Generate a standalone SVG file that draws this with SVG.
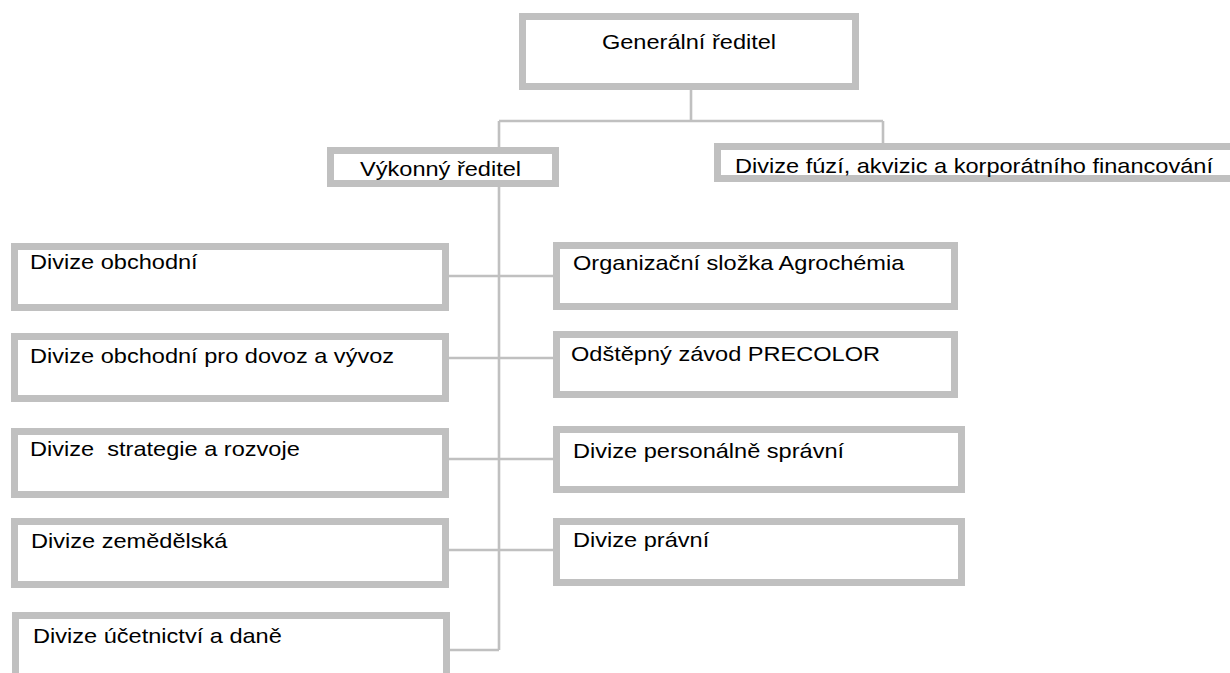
<svg xmlns="http://www.w3.org/2000/svg" width="1230" height="673" viewBox="0 0 1230 673">
  <style>
    .box { fill: #ffffff; stroke: #c0c0c0; stroke-width: 7; }
    .conn { fill: none; stroke: #c0c0c0; stroke-width: 2.6; }
    .lbl { font-family: "Liberation Sans", Arial, sans-serif; font-size: 20.5px; fill: #000000; white-space: pre; }
  </style>
  <rect width="1230" height="673" fill="#ffffff"/>
  <g id="connectors">
    <path class="conn" d="M691 90 V121 M499 121 H883 M499 121 V147 M883 121 V143"/>
    <path class="conn" d="M499 187 V650"/>
    <path class="conn" d="M449 276 H553 M449 358 H553 M449 459 H553 M449 550 H553 M449 650 H499"/>
  </g>
  <g id="n-generalni">
    <rect class="box" x="522.5" y="16.5" width="333" height="70"/>
    <text class="lbl" text-anchor="middle" transform="translate(689 49) scale(1.15 1)">Generální ředitel</text>
  </g>
  <g id="n-vykonny">
    <rect class="box" x="330.5" y="150.5" width="225" height="33"/>
    <text class="lbl" transform="translate(360 176) scale(1.15 1)">Výkonný ředitel</text>
  </g>
  <g id="n-fuzi">
    <rect class="box" x="717.5" y="146.5" width="520" height="32"/>
    <text class="lbl" transform="translate(735 173) scale(1.15 1)">Divize fúzí, akvizic a korporátního financování</text>
  </g>
  <g id="n-obchodni">
    <rect class="box" x="14.5" y="246.5" width="431" height="61"/>
    <text class="lbl" transform="translate(30 269) scale(1.15 1)">Divize obchodní</text>
  </g>
  <g id="n-dovoz">
    <rect class="box" x="14.5" y="336.5" width="431" height="62"/>
    <text class="lbl" transform="translate(30 363) scale(1.15 1)">Divize obchodní pro dovoz a vývoz</text>
  </g>
  <g id="n-strategie">
    <rect class="box" x="14.5" y="431.5" width="431" height="63"/>
    <text class="lbl" transform="translate(30 456) scale(1.15 1)">Divize  strategie a rozvoje</text>
  </g>
  <g id="n-zemedelska">
    <rect class="box" x="14.5" y="521.5" width="431" height="63"/>
    <text class="lbl" transform="translate(31 548) scale(1.15 1)">Divize zemědělská</text>
  </g>
  <g id="n-ucetnictvi">
    <rect class="box" x="15.5" y="615.5" width="431" height="61"/>
    <text class="lbl" transform="translate(33 643) scale(1.15 1)">Divize účetnictví a daně</text>
  </g>
  <g id="n-agrochemia">
    <rect class="box" x="556.5" y="245.5" width="398" height="61"/>
    <text class="lbl" transform="translate(573 270) scale(1.15 1)">Organizační složka Agrochémia</text>
  </g>
  <g id="n-precolor">
    <rect class="box" x="556.5" y="334.5" width="398" height="60"/>
    <text class="lbl" transform="translate(571 361) scale(1.15 1)">Odštěpný závod PRECOLOR</text>
  </g>
  <g id="n-personalne">
    <rect class="box" x="556.5" y="429.5" width="405" height="60"/>
    <text class="lbl" transform="translate(573 458) scale(1.15 1)">Divize personálně správní</text>
  </g>
  <g id="n-pravni">
    <rect class="box" x="556.5" y="521.5" width="405" height="61"/>
    <text class="lbl" transform="translate(573 547) scale(1.15 1)">Divize právní</text>
  </g>
</svg>
